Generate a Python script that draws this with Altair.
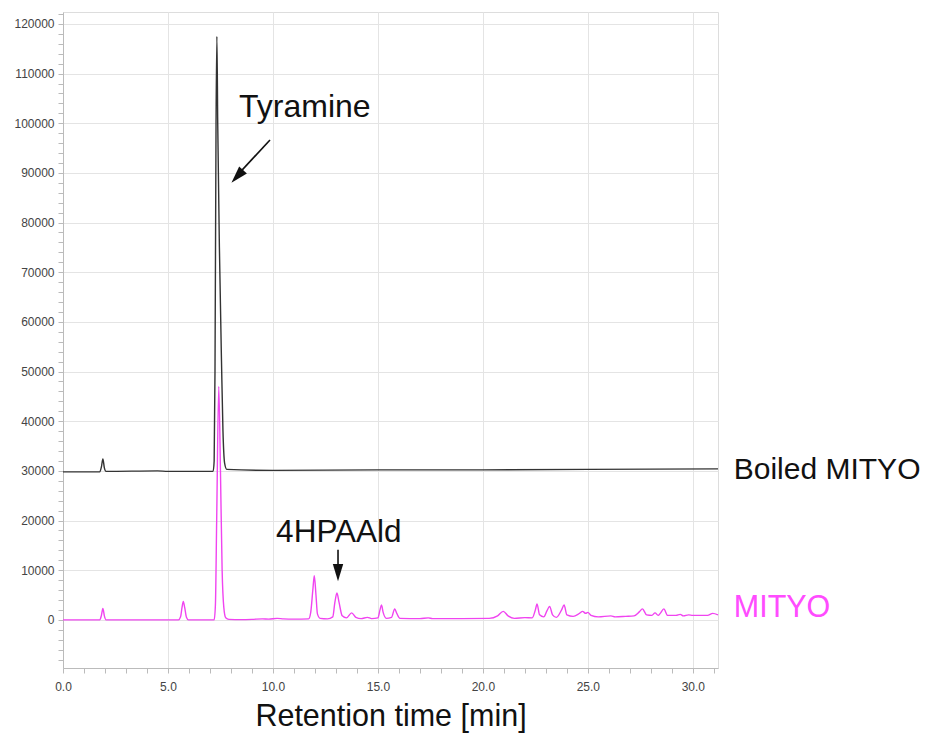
import altair as alt
import pandas as pd

# ---- data ----
boiled_t = [0.0, 1.75, 1.83, 1.9, 1.97, 2.05, 4.5, 5.0, 7.15, 7.2, 7.24, 7.29, 7.33, 7.37, 7.45,
            7.55, 7.62, 7.7, 7.8, 10.0, 15.0, 20.0, 25.0, 31.2]
boiled_v = [29800, 29800, 30800, 32400, 30600, 29900, 30000, 29900, 29900, 32000, 50000, 100000,
            117500, 100000, 75000, 52000, 38000, 31500, 30300, 30100, 30200, 30200, 30300, 30400]

mityo_t = [0.0, 1.75, 1.83, 1.9, 1.97, 2.05, 5.5, 5.6, 5.67, 5.73, 5.8, 5.88, 5.97,
           7.2, 7.26, 7.32, 7.42, 7.5, 7.58, 7.66, 7.75, 7.9, 8.5, 9.0, 9.5, 9.8, 10.2, 10.5,
           11.0, 11.7, 11.8, 11.9, 11.97, 12.05, 12.12, 12.25, 12.6, 12.85, 12.95, 13.05, 13.15,
           13.3, 13.5, 13.75, 13.95, 14.2, 14.5, 14.7, 15.0, 15.1, 15.17, 15.25, 15.4, 15.65,
           15.8, 15.9, 16.05, 17.0, 17.4, 17.6, 19.0, 20.3, 20.7, 20.97, 21.2, 21.5, 22.0, 22.35,
           22.5, 22.58, 22.7, 22.9, 23.05, 23.18, 23.32, 23.5, 23.75, 23.87, 24.0, 24.3, 24.6,
           24.75, 24.9, 25.0, 25.15, 25.5, 26.1, 26.3, 26.8, 27.2, 27.45, 27.6, 27.8, 28.05,
           28.2, 28.35, 28.45, 28.62, 28.8, 29.2, 29.4, 29.55, 29.8, 30.0, 30.7, 30.95, 31.2]
mityo_v = [0, 0, 900, 2300, 800, 0, 0, 600, 2500, 3700, 2400, 500, 0,
           0, 3000, 20000, 47000, 30000, 10000, 2500, 400, 100, 50, 100, 200, 150, 300, 200,
           150, 200, 1500, 6000, 8900, 5000, 1200, 300, 200, 600, 3500, 5400, 3500,
           800, 400, 1400, 500, 250, 500, 250, 400, 2000, 3000, 1500, 300, 500,
           2200, 1300, 300, 250, 400, 250, 250, 300, 800, 1700, 800, 300, 450, 400,
           2000, 3200, 1000, 600, 1800, 2700, 1000, 500, 2000, 3000, 1000, 700, 1300,
           1700, 1300, 1500, 900, 600, 800, 600, 700, 800, 1600, 2200, 1000, 900,
           1400, 900, 1300, 2200, 900, 900, 1100, 800, 1000, 900, 900, 1300, 1000]

series_names = ["Boiled MITYO", "MITYO"]
series_colors = ["#333333", "#f044f0"]
label_colors = ["#111111", "#ff4cff"]

x_ticks = list(range(0, 32))
y_ticks = list(range(-8000, 122001, 2000))

df = pd.concat([
    pd.DataFrame({"t": boiled_t, "v": boiled_v, "s": series_names[0]}),
    pd.DataFrame({"t": mityo_t, "v": mityo_v, "s": series_names[1]}),
])

FONT = "Liberation Sans"

xscale = alt.Scale(domain=[0, 31.2], nice=False, zero=False)
yscale = alt.Scale(domain=[-9700, 122400], nice=False, zero=False)

xaxis = alt.Axis(
    values=x_ticks, title="Retention time [min]",
    labelExpr="datum.value % 5 === 0 ? format(datum.value, '.1f') : ''",
    labelOverlap=False, labelFlush=False, labelFontSize=12, labelColor="#444444",
    labelFont=FONT, labelPadding=8,
    gridOpacity={"condition": {"test": "datum.value % 5 === 0", "value": 1}, "value": 0},
    gridColor="#e4e4e4", domainColor="#bbbbbb", tickColor="#bbbbbb", tickSize=5,
    titleFontSize=30.5, titleFont=FONT, titleFontWeight="normal", titleColor="#111111",
    titlePadding=9,
)
yaxis = alt.Axis(
    values=y_ticks, title=None,
    labelExpr="datum.value % 10000 === 0 ? format(datum.value, 'd') : ''",
    labelOverlap=False, labelFlush=False, labelFontSize=12, labelColor="#444444",
    labelFont=FONT, labelPadding=4,
    gridOpacity={"condition": {"test": "datum.value % 10000 === 0", "value": 1}, "value": 0},
    gridColor="#e4e4e4", domainColor="#bbbbbb", tickColor="#bbbbbb", tickSize=5,
)

lines = alt.Chart(df).mark_line(strokeWidth=1.4, interpolate="monotone").encode(
    x=alt.X("t:Q", scale=xscale, axis=xaxis),
    y=alt.Y("v:Q", scale=yscale, axis=yaxis),
    color=alt.Color("s:N", scale=alt.Scale(domain=series_names, range=series_colors), legend=None),
    detail="s:N",
)


def xd(v):
    return alt.XDatum(v, scale=xscale, axis=xaxis)


def yd(v):
    return alt.YDatum(v, scale=yscale, axis=yaxis)


def text(label, tx, vy, color, size, align="center"):
    return alt.Chart().mark_text(text=label, font=FONT, fontSize=size, color=color,
                                 align=align, baseline="middle").encode(x=xd(tx), y=yd(vy))


ARROW = "M0,1L-0.6,-1L0.6,-1Z"

tyr_text = text("Tyramine", 11.52, 103300, "#111111", 32)
tyr_shaft = alt.Chart().mark_rule(color="#111111", strokeWidth=1.6).encode(
    x=xd(9.86), y=yd(96640), x2=alt.X2Datum(8.45), y2=alt.Y2Datum(90200))
tyr_head = alt.Chart().mark_point(shape=ARROW, filled=True, size=300, angle=42,
                                  color="#111111", opacity=1).encode(x=xd(8.3), y=yd(89300))

hp_text = text("4HPAAld", 13.14, 17500, "#111111", 31.5)
hp_shaft = alt.Chart().mark_rule(color="#111111", strokeWidth=1.6).encode(
    x=xd(13.1), y=yd(14100), y2=alt.Y2Datum(10600))
hp_head = alt.Chart().mark_point(shape=ARROW, filled=True, size=300, angle=0,
                                 color="#111111", opacity=1).encode(x=xd(13.1), y=yd(9500))

lab_boiled = text(series_names[0], 31.95, 30200, label_colors[0], 30, align="left")
lab_mityo = text(series_names[1], 31.95, 2420, label_colors[1], 30.5, align="left")

chart = alt.layer(
    lines, tyr_shaft, tyr_head, tyr_text, hp_shaft, hp_head, hp_text, lab_boiled, lab_mityo
).properties(
    width=655, height=656,
    autosize=alt.AutoSizeParams(type="none"),
    padding={"left": 55, "top": 4, "right": 206, "bottom": 66},
).configure_view(stroke=None).configure(background="white")

chart.save("out.html", embed_options={"renderer": "svg", "actions": False})
